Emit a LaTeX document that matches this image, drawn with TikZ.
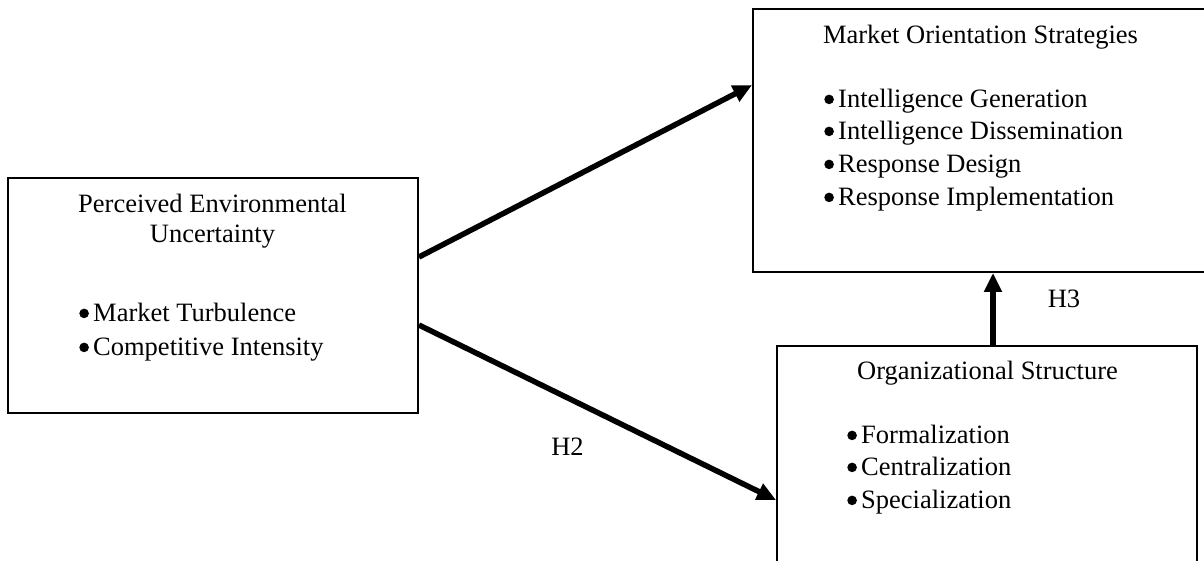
\documentclass[tikz,border=0pt]{standalone}
\usepackage{fontspec}
\setmainfont{Liberation Serif}
\usetikzlibrary{arrows.meta}
% round list bullet followed by its gap
\newcommand{\bul}{\tikz[baseline=0pt]{\path (0pt,0pt) (14pt,0pt); \fill[black] (4.9pt,7.6pt) circle (4.8pt);}}
\begin{document}
\begin{tikzpicture}[x=1pt,y=-1pt,
  box/.style={draw=black, line width=1.9pt, rectangle, inner sep=0pt},
  txt/.style={inner sep=0pt, font=\fontsize{26.5}{30}\selectfont},
  conn/.style={draw=black, line width=5.5pt, -{Triangle[length=19pt,width=17pt]}}]
  \useasboundingbox (0,0) rectangle (1204,560);

  % boxes
  \node[box, minimum width=410pt, minimum height=235pt] (pe) at (213,295.5) {};
  \node[box, minimum width=470pt, minimum height=263pt] (mo) at (988,140.5) {};
  \node[box, minimum width=420pt, minimum height=219pt] (os) at (987,455.5) {};

  % Perceived Environmental Uncertainty
  \node[txt, anchor=base] (pe1) at (212.5,212) {Perceived Environmental};
  \node[txt, anchor=base] (pe2) at (212.5,242) {Uncertainty};
  \node[txt, anchor=base west] (pe3) at (79,321) {\bul Market Turbulence};
  \node[txt, anchor=base west] (pe4) at (79,355) {\bul Competitive Intensity};

  % Market Orientation Strategies
  \node[txt, anchor=base] (mo1) at (980.5,43) {Market Orientation Strategies};
  \node[txt, anchor=base west] (mo2) at (824,107) {\bul Intelligence Generation};
  \node[txt, anchor=base west] (mo3) at (824,139) {\bul Intelligence Dissemination};
  \node[txt, anchor=base west] (mo4) at (824,172) {\bul Response Design};
  \node[txt, anchor=base west] (mo5) at (824,205) {\bul Response Implementation};

  % Organizational Structure
  \node[txt, anchor=base] (os1) at (987.5,379) {Organizational Structure};
  \node[txt, anchor=base west] (os2) at (847,443) {\bul Formalization};
  \node[txt, anchor=base west] (os3) at (847,475) {\bul Centralization};
  \node[txt, anchor=base west] (os4) at (847,508) {\bul Specialization};

  % hypothesis labels
  \node[txt, anchor=base] (h2) at (567.5,455) {H2};
  \node[txt, anchor=base] (h3) at (1064,307) {H3};

  % connectors
  \draw[conn] (pe.east |- 0,257) -- (mo.west |- 0,85);
  \draw[conn] (pe.east |- 0,325) -- (os.west |- 0,500);
  \draw[conn] (993,0 |- os.north) -- (993,0 |- mo.south);
\end{tikzpicture}
\end{document}
